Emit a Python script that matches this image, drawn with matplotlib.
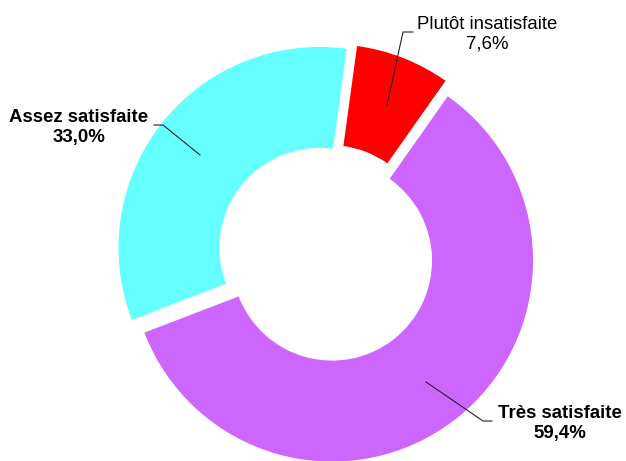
import matplotlib
matplotlib.use('Agg')
import matplotlib.pyplot as plt

plt.rcParams['font.family'] = ['Liberation Sans', 'DejaVu Sans']

# donnees
categories = ['Plutôt insatisfaite', 'Très satisfaite', 'Assez satisfaite']
values = [7.6, 59.4, 33.0]
pct_text = ['7,6%', '59,4%', '33,0%']
colors = ['#FF0000', '#CC66FF', '#66FFFF']

W, H = 626, 461

fig = plt.figure(figsize=(W / 100, H / 100), dpi=100)
ax = fig.add_axes([0, 0, 1, 1])

ax.pie(values, colors=colors, startangle=82.2, counterclock=False,
       radius=201, center=(326.5, H - 253.5), explode=[9, 9, 9],
       wedgeprops=dict(width=101, linewidth=0))

ax.set_xlim(0, W)
ax.set_ylim(0, H)
ax.set_aspect('equal')
ax.axis('off')

# etiquettes (positions en pixels image, y vers le bas)
label_pos = [(487, 34), (560, 423.5), (79, 127.5)]
label_bold = [False, True, True]
leaders = [
    [(387, 105), (403, 32), (413, 32)],
    [(426, 382), (483, 421), (492, 421)],
    [(200, 155), (163, 125), (154, 125)],
]

for cat, pct, (x, y), bold, pts in zip(categories, pct_text, label_pos, label_bold, leaders):
    ax.text(x, H - y, cat + '\n' + pct, ha='center', va='center',
            fontsize=13.4, linespacing=1.2, multialignment='center',
            fontweight='bold' if bold else 'normal', color='black')
    xs = [p[0] for p in pts]
    ys = [H - p[1] for p in pts]
    ax.plot(xs, ys, color='#222222', lw=0.8)

fig.savefig('out.png', dpi=100)
